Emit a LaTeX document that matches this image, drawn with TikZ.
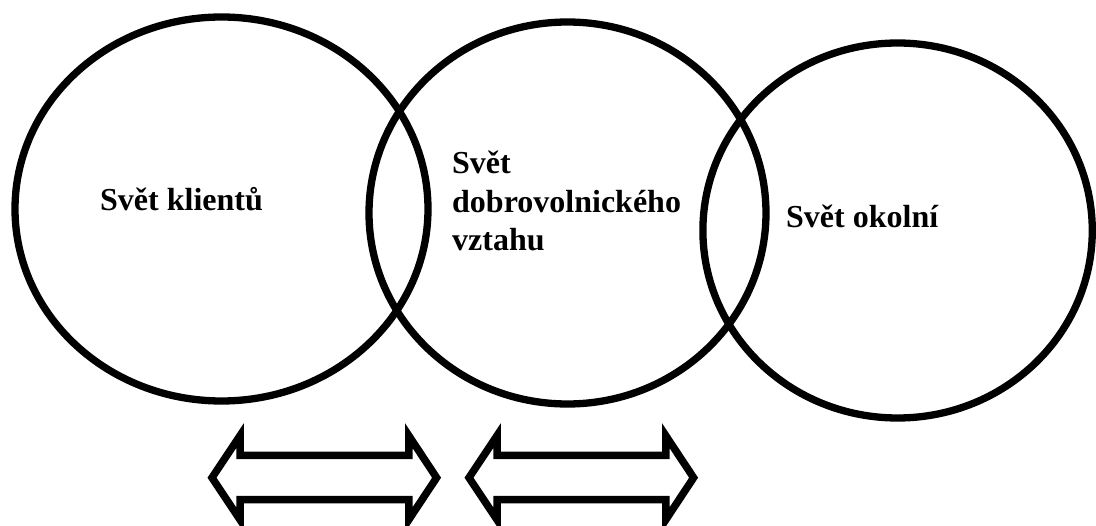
\documentclass[tikz,border=0pt]{standalone}
\usepackage{fontspec}
\setmainfont{Liberation Serif}
\begin{document}
\begin{tikzpicture}[x=1pt,y=-1pt,
  ring/.style={draw=black,line width=7.3pt},
  dblarrow/.style={draw=black,fill=white,line width=7.5pt,miter limit=10},
  lbl/.style={inner sep=0pt,anchor=base west,font=\fontsize{32}{38.5}\selectfont\bfseries}]
\useasboundingbox (0,0) rectangle (1096,526);
\clip (0,0) rectangle (1096,526);
\fill[white] (0,0) rectangle (1096,526);
% circles
\draw[ring] (221.5,209) ellipse [x radius=206.5, y radius=192];
\draw[ring] (567.5,213) ellipse [x radius=198.5, y radius=191];
\draw[ring] (897.6,230.5) ellipse [x radius=194.7, y radius=187.5];
% labels
\node[lbl] (klienti) at (100,210.5) {Svět klientů};
\node[lbl] (vztah1) at (452,174) {Svět};
\node[lbl] (vztah2) at (452,212.7) {dobrovolnického};
\node[lbl] (vztah3) at (452,250.7) {vztahu};
\node[lbl] (okoli) at (786,228) {Svět okolní};
% double arrows
\foreach \s/\n in {0/a,257/b}{
  \begin{scope}[xshift=\s pt]
  \draw[dblarrow] (212,477.7) -- (240,435.7) -- (240,455.5) -- (408.8,455.5)
    -- (408.8,435.7) -- (436.6,477.7) -- (408.8,519.7) -- (408.8,499.7)
    -- (240,499.7) -- (240,519.7) -- cycle;
  \end{scope}
}
\end{tikzpicture}
\end{document}
